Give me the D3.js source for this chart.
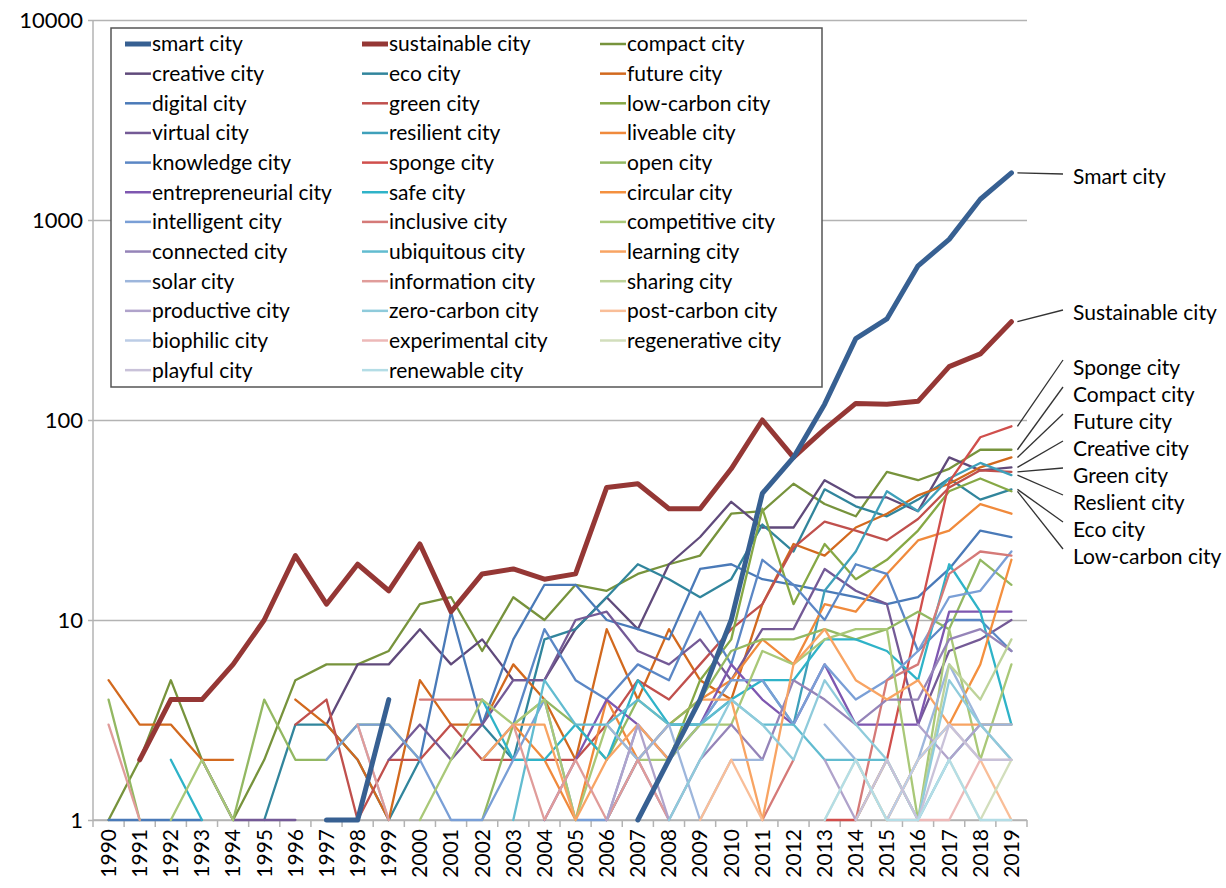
<!DOCTYPE html>
<html>
<head>
<meta charset="utf-8">
<script src="https://cdn.jsdelivr.net/npm/d3@7"></script>
<style>
  body { margin: 0; background: #fff; }
  svg { font-family: Lato, "Open Sans", sans-serif; }
  .grid line { stroke: #b3b3b3; stroke-width: 1.5; }
  .grid path { display: none; }
  .series { fill: none; stroke-linejoin: round; stroke-linecap: round; }
</style>
</head>
<body>
<svg width="1226" height="888"></svg>
<script>
var n = null;

// Categories
var years = [1990, 1991, 1992, 1993, 1994, 1995, 1996, 1997, 1998, 1999,
  2000, 2001, 2002, 2003, 2004, 2005, 2006, 2007, 2008, 2009,
  2010, 2011, 2012, 2013, 2014, 2015, 2016, 2017, 2018, 2019];
var yTicks = [1, 10, 100, 1000, 10000];

// Publications per year (null = no publication, gap on log scale)
var smartCity = [n,n,n,n,n,n,n,1,1,4, n,n,n,n,n,n,n,1,2,4, 10,43,65,120,255,320,590,800,1270,1720];
var sustainableCity = [n,2,4,4,6,10,21,12,19,14, 24,11,17,18,16,17,46,48,36,36, 57,100,65,90,121,120,124,185,214,310];
var compactCity = [1,2,5,2,1,2,5,6,6,7, 12,13,7,13,10,15,14,17,19,21, 34,35,48,38,33,55,50,57,71,71];
var creativeCity = [n,n,n,n,n,n,n,3,6,6, 9,6,8,5,5,9,13,9,19,26, 39,29,29,50,41,41,35,65,56,58];
var ecoCity = [n,n,n,n,n,1,3,3,2,1, 2,n,3,2,8,9,13,19,16,13, 16,30,22,45,37,33,40,51,40,45];
var futureCity = [5,3,3,2,2,n,4,3,2,1, 5,3,3,6,4,2,9,4,9,5, 4,12,24,21,29,34,42,48,58,65];
var digitalCity = [1,1,1,1,n,n,n,n,n,n, 2,11,3,8,15,15,10,9,8,18, 19,16,15,14,13,12,13,18,28,26];
var greenCity = [n,n,n,n,n,n,3,4,1,2, 2,3,2,2,2,2,3,5,4,6, 9,12,23,31,28,25,32,46,56,55];
var lowCarbonCity = [n,n,n,n,n,n,n,n,n,n, n,n,n,n,n,n,n,1,2,5, 8,36,12,24,16,20,28,44,51,44];
var virtualCity = [n,n,n,2,1,1,1,n,n,2, 3,2,3,5,5,10,11,7,6,8, 5,9,9,18,14,12,3,7,8,10];
var resilientCity = [n,n,n,n,n,n,n,n,n,n, n,n,n,n,1,n,1,2,3,3, 5,5,3,14,22,44,35,51,61,53];
var liveableCity = [n,n,n,n,n,n,n,n,n,n, n,n,n,3,2,1,4,2,3,4, 5,8,6,12,11,17,25,28,38,34];
var knowledgeCity = [n,n,n,n,n,n,n,n,n,n, n,n,2,3,9,5,4,6,5,11, 6,20,15,10,19,17,7,10,10,7];
var spongeCity = [n,n,n,n,n,n,n,n,n,n, n,n,n,n,n,n,n,n,n,n, n,n,n,1,1,2,10,49,82,93];
var openCity = [4,1,n,n,1,4,2,2,3,3, 2,n,1,3,4,3,2,4,3,4, 7,8,8,9,8,9,11,9,20,15];
var entrepreneurialCity = [n,n,n,n,n,n,n,n,n,n, n,n,n,n,1,2,4,3,2,3, 6,4,3,6,3,3,3,11,11,11];
var safeCity = [n,n,2,1,n,n,n,n,n,n, n,n,4,2,2,3,2,5,3,3, 4,5,5,8,8,7,5,19,11,3];
var circularCity = [n,n,n,n,n,n,n,n,n,n, n,n,n,n,n,n,n,n,n,n, n,n,n,n,n,1,2,3,6,20];
var intelligentCity = [n,n,n,n,n,n,n,2,3,3, 2,1,1,2,4,1,1,3,2,3, 5,5,3,6,4,5,7,13,14,22];
var inclusiveCity = [n,n,n,n,n,n,n,n,n,n, 4,4,4,n,n,n,n,2,n,n, n,1,2,n,1,5,6,17,22,21];
var competitiveCity = [n,n,1,2,1,n,n,n,n,n, 1,2,4,3,4,1,3,2,2,3, 3,7,6,8,9,9,1,9,2,6];
var connectedCity = [n,n,n,n,n,n,n,n,n,n, n,n,n,n,n,n,1,2,1,2, 3,2,5,4,3,4,4,8,9,7];
var ubiquitousCity = [n,n,n,n,n,n,n,n,n,n, n,n,n,1,5,3,3,4,3,3, 4,3,3,2,2,2,1,2,3,3];
var learningCity = [n,n,n,n,n,n,n,n,n,n, n,n,2,3,3,1,2,3,2,4, 4,1,6,9,5,4,5,3,3,3];
var solarCity = [n,n,n,n,n,n,n,n,3,1, n,n,n,n,n,n,3,2,3,1, 2,2,n,3,2,1,2,6,3,3];
var informationCity = [3,1,n,n,n,n,n,n,3,1, n,n,n,3,1,2,1,2,1,n, n,n,n,n,n,n,n,n,n,n];
var sharingCity = [n,n,n,n,n,n,n,n,n,n, n,n,n,n,n,n,n,n,n,n, n,n,n,n,1,2,1,6,4,8];
var productiveCity = [n,n,n,n,n,n,n,n,n,n, n,n,n,n,n,n,1,3,1,n, n,n,n,2,1,n,3,2,3,2];
var zeroCarbonCity = [n,n,n,n,n,n,n,n,n,n, n,n,n,n,n,n,n,n,1,2, 4,3,2,5,3,2,1,5,3,2];
var postCarbonCity = [n,n,n,n,n,n,n,n,n,n, n,n,n,n,n,n,n,n,n,1, 2,1,n,n,2,1,2,3,2,1];
var biophilicCity = [n,n,n,n,n,n,n,n,n,n, n,n,n,n,n,n,n,n,n,n, n,n,n,n,n,1,2,3,2,2];
var experimentalCity = [n,n,n,n,n,n,n,n,n,n, n,n,n,n,n,n,n,n,n,n, n,n,n,n,n,1,1,1,2,2];
var regenerativeCity = [n,n,n,n,n,n,n,n,n,n, n,n,n,n,n,n,n,n,n,n, n,n,n,1,2,1,n,2,1,2];
var playfulCity = [n,n,n,n,n,n,n,n,n,n, n,n,n,n,n,n,n,n,n,n, n,n,n,n,1,2,1,3,2,2];
var renewableCity = [n,n,n,n,n,n,n,n,n,n, n,n,n,n,n,n,n,n,n,n, n,n,n,1,2,1,1,2,1,1];

// Legend order (row by row, three columns)
var seriesNames = ["smart city", "sustainable city", "compact city",
  "creative city", "eco city", "future city",
  "digital city", "green city", "low-carbon city",
  "virtual city", "resilient city", "liveable city",
  "knowledge city", "sponge city", "open city",
  "entrepreneurial city", "safe city", "circular city",
  "intelligent city", "inclusive city", "competitive city",
  "connected city", "ubiquitous city", "learning city",
  "solar city", "information city", "sharing city",
  "productive city", "zero-carbon city", "post-carbon city",
  "biophilic city", "experimental city", "regenerative city",
  "playful city", "renewable city"];
var seriesValues = [smartCity, sustainableCity, compactCity,
  creativeCity, ecoCity, futureCity,
  digitalCity, greenCity, lowCarbonCity,
  virtualCity, resilientCity, liveableCity,
  knowledgeCity, spongeCity, openCity,
  entrepreneurialCity, safeCity, circularCity,
  intelligentCity, inclusiveCity, competitiveCity,
  connectedCity, ubiquitousCity, learningCity,
  solarCity, informationCity, sharingCity,
  productiveCity, zeroCarbonCity, postCarbonCity,
  biophilicCity, experimentalCity, regenerativeCity,
  playfulCity, renewableCity];
var seriesColors = ["#376092", "#953735", "#77933C",
  "#604A7B", "#31859C", "#D2691E",
  "#4A7AB8", "#C0504D", "#86A845",
  "#745A96", "#3FA0BA", "#F08A3C",
  "#5B87C5", "#D04F4C", "#93B862",
  "#7E57B0", "#2FB3C8", "#F4903F",
  "#7A9FD6", "#D57A78", "#A9C878",
  "#9584B8", "#62BCD0", "#F8A463",
  "#9DB6DC", "#E09C9A", "#BDD39A",
  "#B0A3CB", "#8FCBDB", "#F9BE98",
  "#BCCDE6", "#EDB9B8", "#D2DEBC",
  "#C9C2D9", "#B4DDE6"];
var thickSeries = ["smart city", "sustainable city"];

// Right-hand annotations
var calloutNames = ["Smart city", "Sustainable city", "Sponge city", "Compact city", "Future city",
  "Creative city", "Green city", "Reslient city", "Eco city", "Low-carbon city"];
var calloutSeries = ["smart city", "sustainable city", "sponge city", "compact city", "future city",
  "creative city", "green city", "resilient city", "eco city", "low-carbon city"];

function draw() {
  var svg = d3.select("svg");
  var left = 93, right = 1027, top = 20, bottom = 820;

  var x = d3.scalePoint().domain(years).range([left, right]).padding(0.5);
  var band = d3.scaleBand().domain(years).range([left, right]);
  var y = d3.scaleLog().domain([1, 10000]).range([bottom, top]);

  //Horizontal gridlines + y labels
  var gy = svg.append("g")
    .attr("class", "grid")
    .attr("transform", "translate(" + left + ",0)")
    .call(d3.axisLeft(y).tickValues(yTicks).tickSize(-(right - left)).tickPadding(10).tickFormat(d3.format("d")));
  gy.selectAll("line").attr("x1", -5);
  gy.selectAll("text")
    .attr("font-size", 22)
    .attr("font-family", "Lato, sans-serif")
    .attr("fill", "#000");

  //Axis lines
  svg.append("line")
    .attr("x1", left).attr("x2", left).attr("y1", top).attr("y2", bottom)
    .attr("stroke", "#b3b3b3").attr("stroke-width", 1.5);
  svg.append("line")
    .attr("x1", left).attr("x2", right).attr("y1", bottom).attr("y2", bottom)
    .attr("stroke", "#b3b3b3").attr("stroke-width", 1.5);

  //Category ticks sit between years
  var tickPos = years.map(function(d) { return band(d); }).concat([right]);
  svg.append("g").selectAll("line")
    .data(tickPos)
    .enter().append("line")
    .attr("x1", d => d).attr("x2", d => d)
    .attr("y1", bottom).attr("y2", bottom + 7)
    .attr("stroke", "#b3b3b3").attr("stroke-width", 1.5);

  svg.append("g").selectAll("text")
    .data(years)
    .enter().append("text")
    .attr("transform", d => "translate(" + x(d) + "," + (bottom + 9) + ") rotate(-90)")
    .attr("dy", "0.35em")
    .attr("text-anchor", "end")
    .attr("font-size", 21)
    .text(d => d);

  //Series lines
  var line = d3.line()
    .defined(d => d.v != null)
    .x(d => x(d.year))
    .y(d => y(d.v));

  var series = seriesNames.map(function(name, i) {
    return {
      name: name,
      color: seriesColors[i],
      thick: thickSeries.indexOf(name) >= 0,
      points: years.map((yr, j) => ({ year: yr, v: seriesValues[i][j] }))
    };
  });

  //Thin lines first, the two headline series on top
  var drawOrder = series.filter(s => !s.thick).concat(series.filter(s => s.thick).reverse());
  svg.append("g").selectAll("path")
    .data(drawOrder)
    .enter().append("path")
    .attr("class", "series")
    .attr("stroke", d => d.color)
    .attr("stroke-width", d => d.thick ? 5 : 2.3)
    .attr("d", d => line(d.points));

  //Legend
  var lg = svg.append("g");
  lg.append("rect")
    .attr("x", 111).attr("y", 28).attr("width", 711).attr("height", 359)
    .attr("fill", "#fff").attr("stroke", "#555").attr("stroke-width", 1.5);
  var colX = [125, 362, 600];
  var items = lg.selectAll("g.item")
    .data(series)
    .enter().append("g")
    .attr("class", "item")
    .attr("transform", (d, i) => "translate(" + colX[i % 3] + "," + (44 + 29.65 * Math.floor(i / 3)) + ")");
  items.append("line")
    .attr("x1", 0).attr("x2", 26)
    .attr("stroke", d => d.color)
    .attr("stroke-width", d => d.thick ? 5 : 2.5);
  items.append("text")
    .attr("x", 27)
    .attr("dy", "0.35em")
    .attr("font-size", 21)
    .text(d => d.name);

  //Callouts at the right edge
  var labelY = [177, 313, 368, 395, 422, 449, 476, 503, 530, 557];
  var endX = x(2019);
  var callouts = svg.append("g");
  calloutNames.forEach(function(label, i) {
    var s = series.find(d => d.name === calloutSeries[i]);
    var last = s.points[s.points.length - 1].v;
    var ex = endX + 6, ey = y(last);
    var lx = 1063, ly = labelY[i] - (i < 2 ? 3 : 8);
    callouts.append("line")
      .attr("x1", ex).attr("y1", ey).attr("x2", lx).attr("y2", ly)
      .attr("stroke", "#333").attr("stroke-width", 1.3);
    callouts.append("text")
      .attr("x", 1073).attr("y", labelY[i])
      .attr("dy", "0.35em")
      .attr("font-size", 21)
      .text(label);
  });
}

document.addEventListener('DOMContentLoaded', draw);
</script>
</body>
</html>
